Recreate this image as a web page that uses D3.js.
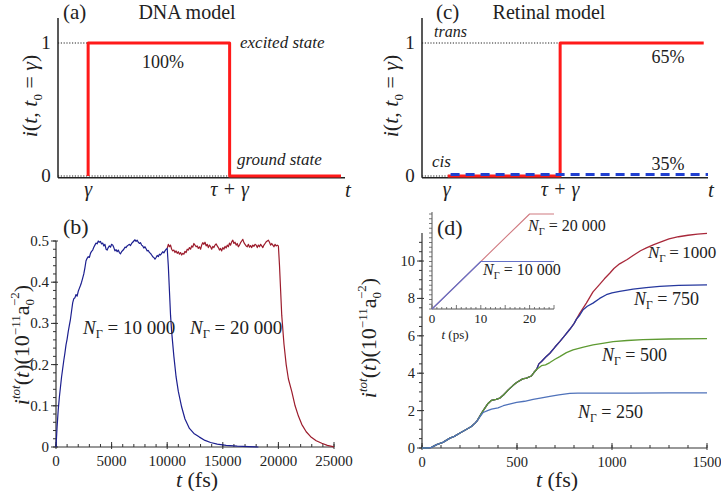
<!DOCTYPE html>
<html><head><meta charset="utf-8">
<script src="https://cdn.jsdelivr.net/npm/d3@7"></script>
<style>
body{margin:0;background:#fff;}
</style></head>
<body>
<svg id="c" width="721" height="491" font-family="'Liberation Serif', 'Times New Roman', Times, serif" style="font-family:'Liberation Serif','Times New Roman',Times,serif"></svg>
<script>
// ---------- DATA ----------
// Panel (a) DNA model: step function
const aT = [1.05, 1.05, 5.98, 5.98, 9.86];
const aV = [0, 1, 1, 0, 0];
// Panel (c) Retinal model
const cRedT = [0.9, 4.83, 4.83, 9.85];
const cRedV = [0, 0, 1, 1];
const cBlueT = [1.0, 10.0];
const cBlueV = [0.012, 0.012];

// Panel (b): N_Gamma = 10 000 (blue) and 20 000 (red)
const bBlueT = [0,100,200,300,400,500,600,700,800,900,1000,1100,1200,1300,1400,1500,1600,1700,1800,1900,2000,2100,2200,2300,2400,2500,2600,2700,2800,2900,3000,3100,3200,3300,3400,3500,3600,3700,3800,3900,4000,4100,4200,4300,4400,4500,4600,4700,4800,4900,5000,5100,5200,5300,5400,5500,5600,5700,5800,5900,6000,6100,6200,6300,6400,6500,6600,6700,6800,6900,7000,7100,7200,7300,7400,7500,7600,7700,7800,7900,8000,8100,8200,8300,8400,8500,8600,8700,8800,8900,9000,9100,9200,9300,9400,9500,9600,9700,9800,9900,10000,10100,10200,10300,10400,10600,10800,11000,11300,11600,12000,12400,12900,13400,13900,14500,15300,16300,17300,18200];
const bBlueV = [0,0.05,0.09,0.12,0.145,0.17,0.19,0.21,0.228,0.248,0.262,0.28,0.295,0.31,0.33,0.35,0.36,0.362,0.37,0.366,0.378,0.385,0.392,0.4,0.41,0.42,0.435,0.452,0.458,0.462,0.46,0.47,0.475,0.478,0.485,0.49,0.495,0.493,0.5,0.497,0.499,0.493,0.495,0.488,0.492,0.48,0.478,0.484,0.488,0.485,0.492,0.49,0.484,0.476,0.479,0.474,0.478,0.472,0.469,0.474,0.477,0.48,0.485,0.484,0.488,0.49,0.492,0.489,0.494,0.497,0.5,0.503,0.499,0.502,0.497,0.494,0.496,0.49,0.488,0.483,0.486,0.481,0.476,0.477,0.472,0.47,0.466,0.462,0.46,0.456,0.46,0.465,0.462,0.468,0.466,0.47,0.474,0.471,0.476,0.48,0.482,0.44,0.38,0.32,0.28,0.22,0.17,0.135,0.097,0.068,0.045,0.033,0.024,0.016,0.011,0.007,0.004,0.002,0.001,0];
const bRedT = [10000,10100,10200,10300,10400,10500,10600,10700,10800,10900,11000,11100,11200,11300,11400,11500,11600,11700,11800,11900,12000,12100,12200,12300,12400,12500,12600,12700,12800,12900,13000,13100,13200,13300,13400,13500,13600,13700,13800,13900,14000,14100,14200,14300,14400,14500,14600,14700,14800,14900,15000,15100,15200,15300,15400,15500,15600,15700,15800,15900,16000,16100,16200,16300,16400,16500,16600,16700,16800,16900,17000,17100,17200,17300,17400,17500,17600,17700,17800,17900,18000,18100,18200,18300,18400,18500,18600,18700,18800,18900,19000,19100,19200,19300,19400,19500,19600,19700,19800,19900,20000,20100,20200,20300,20500,20700,20900,21200,21500,21800,22100,22500,22900,23400,23900,24400,24900,25000];
const bRedV = [0.482,0.492,0.486,0.49,0.48,0.476,0.478,0.472,0.476,0.47,0.474,0.468,0.472,0.466,0.47,0.468,0.475,0.472,0.48,0.478,0.484,0.48,0.488,0.485,0.494,0.49,0.486,0.488,0.482,0.486,0.48,0.49,0.496,0.492,0.497,0.488,0.492,0.484,0.49,0.486,0.48,0.487,0.484,0.49,0.493,0.488,0.484,0.478,0.482,0.476,0.484,0.48,0.487,0.483,0.49,0.486,0.495,0.49,0.498,0.502,0.494,0.497,0.49,0.494,0.486,0.49,0.496,0.5,0.504,0.496,0.492,0.488,0.486,0.492,0.485,0.489,0.484,0.49,0.487,0.492,0.49,0.484,0.49,0.486,0.492,0.488,0.484,0.49,0.494,0.498,0.5,0.502,0.497,0.49,0.494,0.49,0.486,0.492,0.488,0.49,0.488,0.44,0.38,0.32,0.25,0.2,0.165,0.135,0.1,0.075,0.055,0.037,0.025,0.015,0.009,0.004,0.001,0];
const bXTicks = [0,5000,10000,15000,20000,25000];
const bYTicks = [0,0.1,0.2,0.3,0.4,0.5];

// Panel (d): four N_Gamma curves
const dT1000 = [0,30,50,77,110,147,170,200,235,260,279,290,310,322,345,366,390,410,430,454,480,498,530,550,575,590,603,615,629,650,673,700,725,750,778,800,813,830,865,900,935,960,988,1010,1040,1080,1111,1150,1181,1220,1251,1300,1350,1400,1450,1500];
const dV1000 = [0,0,0.03,0.18,0.3,0.53,0.62,0.8,1.0,1.15,1.33,1.45,1.8,2.0,2.35,2.55,2.6,2.67,2.85,3.11,3.35,3.5,3.7,3.74,3.85,4.05,4.2,4.5,4.63,4.85,5.07,5.4,5.69,6.0,6.35,6.65,6.89,7.2,7.75,8.35,8.75,9.05,9.35,9.6,9.85,10.08,10.3,10.55,10.7,10.88,11.0,11.18,11.3,11.38,11.44,11.48];
const dT750 = [0,30,50,77,110,147,170,200,235,260,279,290,310,322,345,366,390,410,430,454,480,498,530,550,575,590,603,615,629,650,673,700,725,750,778,800,813,830,848,870,900,935,970,1000,1040,1080,1111,1180,1251,1350,1500];
const dV750 = [0,0,0.03,0.18,0.3,0.53,0.62,0.8,1.0,1.15,1.33,1.45,1.8,2.0,2.35,2.55,2.6,2.67,2.85,3.11,3.35,3.5,3.7,3.74,3.85,4.05,4.2,4.5,4.63,4.85,5.07,5.4,5.69,6.0,6.35,6.65,6.89,7.1,7.4,7.58,7.75,8.0,8.2,8.3,8.38,8.45,8.5,8.58,8.65,8.7,8.72];
const dT500 = [0,30,50,77,110,147,170,200,235,260,279,290,310,322,345,366,390,410,430,454,480,498,530,550,575,590,603,629,650,673,700,725,760,795,850,900,950,1006,1080,1163,1300,1500];
const dV500 = [0,0,0.03,0.18,0.3,0.53,0.62,0.8,1.0,1.15,1.33,1.45,1.8,2.0,2.35,2.55,2.6,2.67,2.85,3.11,3.35,3.5,3.7,3.74,3.85,4.05,4.2,4.4,4.45,4.57,4.75,4.89,5.1,5.25,5.4,5.52,5.6,5.69,5.75,5.8,5.83,5.85];
const dT250 = [0,30,50,77,110,147,170,200,235,260,279,290,300,322,345,366,400,428,460,498,540,585,630,673,720,778,820,900,1100,1300,1500];
const dV250 = [0,0,0.03,0.18,0.3,0.53,0.62,0.8,1.0,1.15,1.33,1.45,1.6,1.9,2.0,2.08,2.15,2.26,2.35,2.44,2.5,2.6,2.68,2.76,2.84,2.92,2.94,2.94,2.94,2.95,2.95];
const dXTicks = [0,500,1000,1500];
const dYTicks = [0,2,4,6,8,10];
// inset (d)
const inT20000 = [0,20,25];
const inV20000 = [0,20000,20000];
const inT10000 = [0,10,25];
const inV10000 = [0,10000,10000];
const inXTicks = [0,10,20];

// ---------- DRAW ----------
const FONT = "'Liberation Serif', 'Times New Roman', Times, serif";
const svg = d3.select("#c");

function txt(x, y, s, size, opts={}) {
  const t = svg.append("text").attr("x", x).attr("y", y).attr("font-size", size)
    .attr("font-family", FONT).attr("fill", "#222")
    .attr("text-anchor", opts.anchor || "start").text(s);
  if (opts.italic) t.attr("font-style", "italic");
  return t;
}
function mtext(x, y, size, anchor) {
  return svg.append("text").attr("x", x).attr("y", y).attr("font-size", size)
    .attr("font-family", FONT).attr("fill", "#222").attr("text-anchor", anchor || "start");
}
function nGamma(x, y, value, size, eq) {
  const t = mtext(x, y, size);
  t.append("tspan").attr("font-style", "italic").text("N");
  t.append("tspan").attr("font-size", size * 0.65).attr("dy", size * 0.22).text("Γ");
  t.append("tspan").attr("dy", -size * 0.22).text(eq || (" = " + value));
  return t;
}
function lineXY(g, xs, ys, T, V, color, w, dash) {
  const data = T.map((t, i) => [t, V[i]]);
  const p = g.append("path").datum(data)
    .attr("d", d3.line().x(d => xs(d[0])).y(d => ys(d[1])))
    .attr("fill", "none").attr("stroke", color).attr("stroke-width", w)
    .attr("stroke-linejoin", "round");
  if (dash) p.attr("stroke-dasharray", dash);
  return p;
}
function yLabelState(x, y) {
  const t = mtext(0, 0, 22, "middle").attr("x", null).attr("y", null)
    .attr("transform", `translate(${x},${y}) rotate(-90)`);
  t.append("tspan").attr("font-style", "italic").text("i");
  t.append("tspan").text("(");
  t.append("tspan").attr("font-style", "italic").text("t");
  t.append("tspan").text(", ");
  t.append("tspan").attr("font-style", "italic").text("t");
  t.append("tspan").attr("font-size", 13).attr("dy", 5).text("0");
  t.append("tspan").attr("dy", -5).text(" = ");
  t.append("tspan").attr("font-style", "italic").text("γ");
  t.append("tspan").text(")");
}
function yLabelTot(x, y) {
  const t = mtext(0, 0, 22, "middle").attr("x", null).attr("y", null)
    .attr("transform", `translate(${x},${y}) rotate(-90)`);
  t.append("tspan").attr("font-style", "italic").text("i");
  t.append("tspan").attr("font-style", "italic").attr("font-size", 13).attr("dy", -9).text("tot");
  t.append("tspan").attr("dy", 9).text("(");
  t.append("tspan").attr("font-style", "italic").text("t");
  t.append("tspan").text(")(10");
  t.append("tspan").attr("font-size", 13).attr("dy", -9).text("−11");
  t.append("tspan").attr("dy", 9).text("a");
  t.append("tspan").attr("font-size", 13).attr("dy", 5).text("0");
  t.append("tspan").attr("font-size", 13).attr("dy", -15).attr("dx", -7).text("−2");
  t.append("tspan").attr("dy", 10).text(")");
}

// ===== Panel (a) =====
{
  const x = d3.scaleLinear().domain([0, 10]).range([58, 345]);
  const y = d3.scaleLinear().domain([0, 1]).range([176, 43]);
  const g = svg.append("g");
  g.append("line").attr("x1", x(0)).attr("x2", x(0)).attr("y1", 18).attr("y2", y(-0.013)).attr("stroke", "#222").attr("stroke-width", 1.5);
  g.append("line").attr("x1", x(0)).attr("x2", x(10)).attr("y1", y(-0.013)).attr("y2", y(-0.013)).attr("stroke", "#222").attr("stroke-width", 1.5);
  g.append("line").attr("x1", x(0)).attr("x2", x(aT[0])).attr("y1", y(1)).attr("y2", y(1)).attr("stroke", "#222").attr("stroke-dasharray", "1.2,1.6");
  g.append("line").attr("x1", x(0)).attr("x2", x(aT[2])).attr("y1", y(0)).attr("y2", y(0)).attr("stroke", "#222").attr("stroke-dasharray", "1.2,1.6");
  lineXY(g, x, y, aT, aV, "#ff1a1a", 3);
  txt(46, y(1) + 6, "1", 19, {anchor: "middle"});
  txt(46, y(0) + 6, "0", 19, {anchor: "middle"});
  txt(x(aT[0]), 196, "γ", 20, {anchor: "middle", italic: true});
  txt(x(aT[2]), 196, "τ + γ", 20, {anchor: "middle", italic: true});
  txt(348, 197, "t", 21, {anchor: "middle", italic: true});
  txt(163, 68, "100%", 18, {anchor: "middle"});
  txt(240, 48, "excited state", 17, {italic: true});
  txt(237, 165, "ground state", 17, {italic: true});
  txt(63, 19, "(a)", 21);
  txt(187, 19, "DNA model", 20, {anchor: "middle"});
  yLabelState(37, 96);
}

// ===== Panel (c) =====
{
  const x = d3.scaleLinear().domain([0, 10]).range([422, 708]);
  const y = d3.scaleLinear().domain([0, 1]).range([176, 43]);
  const g = svg.append("g");
  g.append("line").attr("x1", x(0)).attr("x2", x(0)).attr("y1", 18).attr("y2", y(-0.013)).attr("stroke", "#222").attr("stroke-width", 1.5);
  g.append("line").attr("x1", x(0)).attr("x2", x(10)).attr("y1", y(-0.013)).attr("y2", y(-0.013)).attr("stroke", "#222").attr("stroke-width", 1.5);
  g.append("line").attr("x1", x(0)).attr("x2", x(cRedT[1])).attr("y1", y(1)).attr("y2", y(1)).attr("stroke", "#222").attr("stroke-dasharray", "1.2,1.6");
  g.append("line").attr("x1", x(0)).attr("x2", x(cRedT[0])).attr("y1", y(0)).attr("y2", y(0)).attr("stroke", "#222").attr("stroke-dasharray", "1.2,1.6");
  lineXY(g, x, y, cRedT, cRedV, "#ff1a1a", 3);
  lineXY(g, x, y, cBlueT, cBlueV, "#1f3fd0", 3, "9,6");
  txt(410, y(1) + 6, "1", 19, {anchor: "middle"});
  txt(410, y(0) + 6, "0", 19, {anchor: "middle"});
  txt(x(cRedT[0]) - 1, 196, "γ", 20, {anchor: "middle", italic: true});
  txt(x(cRedT[1]), 196, "τ + γ", 20, {anchor: "middle", italic: true});
  txt(711, 197, "t", 21, {anchor: "middle", italic: true});
  txt(434, 37, "trans", 16, {italic: true});
  txt(432, 167, "cis", 17, {italic: true});
  txt(668, 63, "65%", 18, {anchor: "middle"});
  txt(668, 170, "35%", 18, {anchor: "middle"});
  txt(436, 19, "(c)", 21);
  txt(549, 19, "Retinal model", 20, {anchor: "middle"});
  yLabelState(398, 96);
}

// axis helper for data panels
function dataAxes(g, x, y, xTicks, yTicks, xMinor, yMinor, xFmt, yFmt, fs) {
  const [x0, x1] = x.range(), [y0, y1] = y.range();
  g.append("line").attr("x1", x0).attr("x2", x1).attr("y1", y0).attr("y2", y0).attr("stroke", "#333").attr("stroke-width", 1.2);
  g.append("line").attr("x1", x0).attr("x2", x0).attr("y1", y0).attr("y2", y1).attr("stroke", "#333").attr("stroke-width", 1.2);
  xMinor.forEach(v => g.append("line").attr("x1", x(v)).attr("x2", x(v)).attr("y1", y0).attr("y2", y0 - 3).attr("stroke", "#333"));
  xTicks.forEach(v => {
    g.append("line").attr("x1", x(v)).attr("x2", x(v)).attr("y1", y0 + 2).attr("y2", y0 - 5).attr("stroke", "#333");
    txt(x(v), y0 + 19, xFmt(v), fs, {anchor: "middle"});
  });
  yMinor.forEach(v => g.append("line").attr("x1", x0).attr("x2", x0 - 3).attr("y1", y(v)).attr("y2", y(v)).attr("stroke", "#333"));
  yTicks.forEach(v => {
    g.append("line").attr("x1", x0 + 2).attr("x2", x0 - 5).attr("y1", y(v)).attr("y2", y(v)).attr("stroke", "#333");
    txt(x0 - 7, y(v) + 5, yFmt(v), fs, {anchor: "end"});
  });
}

// ===== Panel (b) =====
{
  const x = d3.scaleLinear().domain([0, 25000]).range([56, 334]);
  const y = d3.scaleLinear().domain([0, 0.5]).range([447, 241]);
  const g = svg.append("g");
  dataAxes(g, x, y, bXTicks, bYTicks, d3.range(0, 25001, 1000), d3.range(0, 0.501, 0.02),
    v => String(v), v => v === 0 ? "0" : d3.format(".1f")(v), 15);
  lineXY(g, x, y, bRedT, bRedV, "#9c1c2c", 1.2);
  lineXY(g, x, y, bBlueT, bBlueV, "#1c1f8f", 1.2);
  nGamma(83, 334, "10 000", 19);
  nGamma(190, 334, "20 000", 19);
  const tl = mtext(197, 487, 22, "middle");
  tl.append("tspan").attr("font-style", "italic").text("t");
  tl.append("tspan").text(" (fs)");
  txt(63, 234, "(b)", 22);
  yLabelTot(29, 345);
}

// ===== Panel (d) =====
{
  const x = d3.scaleLinear().domain([0, 1500]).range([422, 707]);
  const y = d3.scaleLinear().domain([0, 11.5]).range([448, 233]);
  const g = svg.append("g");
  dataAxes(g, x, y, dXTicks, dYTicks, d3.range(0, 1501, 100), d3.range(0, 11.5, 0.5),
    v => String(v), v => String(v), 14.5);
  lineXY(g, x, y, dT1000, dV1000, "#a8283a", 1.3);
  lineXY(g, x, y, dT750, dV750, "#26389e", 1.3);
  lineXY(g, x, y, dT500, dV500, "#5e9a32", 1.3);
  lineXY(g, x, y, dT250, dV250, "#4f72ba", 1.3);
  nGamma(648, 258, "1000", 17, "\u2009=\u20091000");
  nGamma(634, 305, "750", 18);
  nGamma(602, 361, "500", 18);
  nGamma(578, 418, "250", 18);
  const tl = mtext(557, 487, 22, "middle");
  tl.append("tspan").attr("font-style", "italic").text("t");
  tl.append("tspan").text(" (fs)");
  yLabelTot(376, 338);

  // inset
  const ix = d3.scaleLinear().domain([0, 25]).range([432, 554]);
  const iy = d3.scaleLinear().domain([0, 20000]).range([309, 214]);
  const ig = svg.append("g");
  ig.append("line").attr("x1", 432).attr("x2", 554).attr("y1", 309).attr("y2", 309).attr("stroke", "#555").attr("stroke-width", 1);
  ig.append("line").attr("x1", 432).attr("x2", 432).attr("y1", 309).attr("y2", 212).attr("stroke", "#555").attr("stroke-width", 1);
  d3.range(0, 25.1, 1).forEach(v => ig.append("line").attr("x1", ix(v)).attr("x2", ix(v)).attr("y1", 309).attr("y2", v % 5 === 0 ? 305 : 307).attr("stroke", "#555").attr("stroke-width", 0.8));
  d3.range(0, 20500, 1000).forEach(v => ig.append("line").attr("x1", 432).attr("x2", 429).attr("y1", iy(v)).attr("y2", iy(v)).attr("stroke", "#555").attr("stroke-width", 0.8));
  lineXY(ig, ix, iy, inT20000, inV20000, "#d07a80", 1.1);
  lineXY(ig, ix, iy, inT10000, inV10000, "#6470c8", 1.1);
  inXTicks.forEach(v => txt(ix(v), 323, String(v), 13, {anchor: "middle"}));
  const il = mtext(455, 339, 13, "middle");
  il.append("tspan").attr("font-style", "italic").text("t");
  il.append("tspan").text(" (ps)");
  nGamma(528, 231, "20 000", 16);
  nGamma(483, 275, "10 000", 16);
  txt(437, 235, "(d)", 22);
}
</script>
</body></html>
